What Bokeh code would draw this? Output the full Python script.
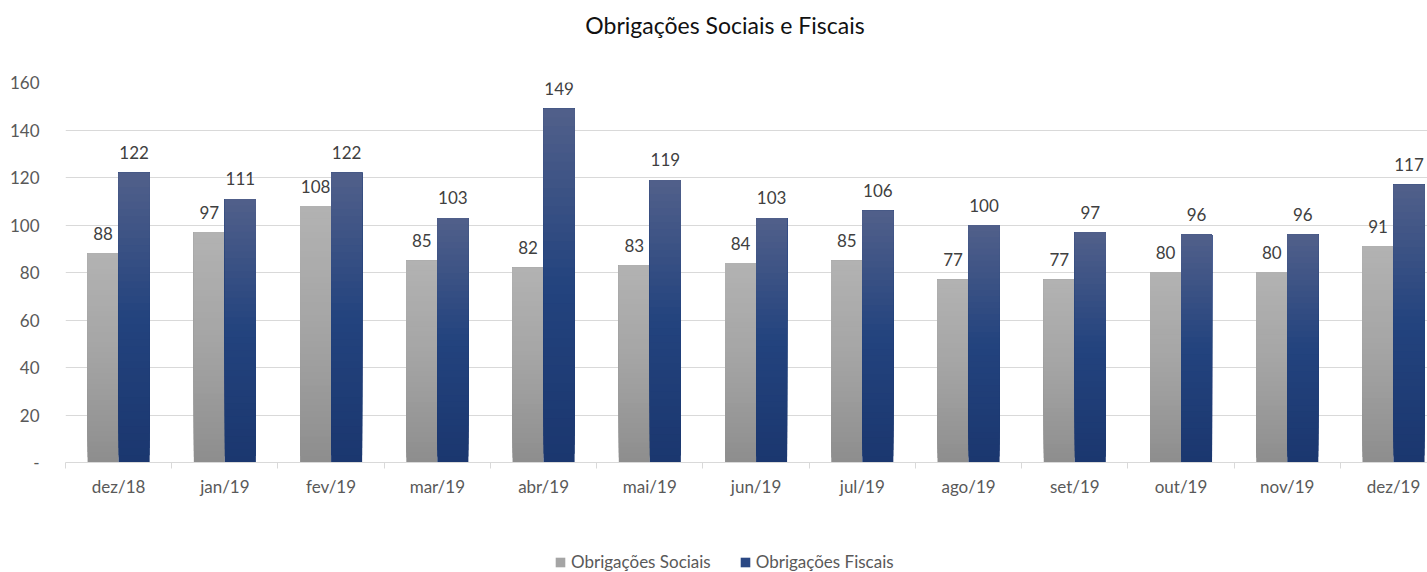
from bokeh.plotting import figure
from bokeh.layouts import column
from bokeh.models import (ColumnDataSource, Range1d, FixedTicker, LabelSet, Label,
                          Legend, LegendItem)
from bokeh.core.properties import value
from bokeh.embed import file_html
from bokeh.resources import INLINE

# ---- data ----
categories = ["dez/18", "jan/19", "fev/19", "mar/19", "abr/19", "mai/19", "jun/19",
              "jul/19", "ago/19", "set/19", "out/19", "nov/19", "dez/19"]
sociais = [88, 97, 108, 85, 82, 83, 84, 85, 77, 77, 80, 80, 91]
fiscais = [122, 111, 122, 103, 149, 119, 103, 106, 100, 97, 96, 96, 117]
y_ticks = [0, 20, 40, 60, 80, 100, 120, 140, 160]
series_names = ["Obrigações Sociais", "Obrigações Fiscais"]
title_text = "Obrigações Sociais e Fiscais"

FONT = "Lato"
BAR_W = 0.292
OFFSET = 0.146
N_SLICES = 40
W = 1427
LEFT = 65

# gradient stops (bottom -> top)
gray_stops = [(0.0, (0x8e, 0x8e, 0x8e)), (0.5, (0xa4, 0xa4, 0xa4)), (1.0, (0xb2, 0xb2, 0xb2))]
blue_stops = [(0.0, (0x1b, 0x37, 0x6f)), (0.5, (0x23, 0x43, 0x7e)), (1.0, (0x50, 0x5f, 0x8a))]


def interp(stops, t):
    for (t0, c0), (t1, c1) in zip(stops[:-1], stops[1:]):
        if t <= t1:
            f = (t - t0) / (t1 - t0) if t1 > t0 else 0
            c = [round(a + (b - a) * f) for a, b in zip(c0, c1)]
            return "#%02x%02x%02x" % tuple(c)
    return "#%02x%02x%02x" % stops[-1][1]


def strip(height):
    # frames are aligned with the main chart's frame (which starts at LEFT px)
    fig = figure(width=W, height=height, output_backend="svg", toolbar_location=None,
                 x_range=Range1d(LEFT, W), y_range=Range1d(0, height),
                 x_axis_location=None, y_axis_location=None,
                 min_border_left=LEFT, min_border_right=0, min_border_top=0,
                 min_border_bottom=0)
    fig.outline_line_color = None
    fig.xgrid.grid_line_color = None
    fig.ygrid.grid_line_color = None
    fig.background_fill_color = "white"
    fig.border_fill_color = "white"
    return fig


# ---- title strip ----
TH = 60
tf = strip(TH)
tf.add_layout(Label(x=724.5, y=TH - 24, text=title_text, text_align="center",
                    text_baseline="middle", text_font=FONT, text_font_size="23px",
                    text_font_style="normal", text_color="#111111"))

# ---- main chart ----
p = figure(width=W, height=480, output_backend="svg", toolbar_location=None,
           x_range=Range1d(0, 12.82), y_range=Range1d(0, 160),
           min_border_left=LEFT, min_border_right=0, min_border_top=22,
           min_border_bottom=78)
p.outline_line_color = None
p.background_fill_color = "white"
p.border_fill_color = "white"

for vals, off, stops in [(sociais, -OFFSET, gray_stops), (fiscais, OFFSET, blue_stops)]:
    xs, bottoms, tops, colors = [], [], [], []
    for k in range(N_SLICES):
        t = k / (N_SLICES - 1)
        for i, v in enumerate(vals):
            xs.append(i + 0.5 + off)
            bottoms.append(v * k / N_SLICES)
            tops.append(v)
            colors.append(interp(stops, t))
    src = ColumnDataSource(dict(x=xs, bottom=bottoms, top=tops, color=colors))
    p.vbar(x="x", bottom="bottom", top="top", width=BAR_W, source=src,
           fill_color="color", line_color=None)

lab_src = ColumnDataSource(dict(
    x=[i + 0.5 - OFFSET for i in range(len(categories))] + [i + 0.5 + OFFSET for i in range(len(categories))],
    y=sociais + fiscais,
    text=[str(v) for v in sociais + fiscais],
))
p.add_layout(LabelSet(x="x", y="y", text="text", source=lab_src, text_align="center",
                      text_baseline="middle", y_offset=20, text_font=value(FONT),
                      text_font_size="17px", text_color="#404040"))

p.yaxis.ticker = FixedTicker(ticks=y_ticks)
p.yaxis.major_label_overrides = {0: "-"}
p.yaxis.axis_line_color = None
p.yaxis.major_tick_line_color = None
p.yaxis.minor_tick_line_color = None
p.yaxis.major_label_standoff = 20
p.yaxis.major_label_text_font = FONT
p.yaxis.major_label_text_font_size = "17px"
p.yaxis.major_label_text_color = "#595959"

p.ygrid.ticker = FixedTicker(ticks=y_ticks)
p.ygrid.grid_line_color = "#d9d9d9"
p.ygrid.grid_line_width = 1
p.xgrid.grid_line_color = None

centers = [i + 0.5 for i in range(len(categories))]
bounds = [float(i) for i in range(len(categories) + 1)]
p.xaxis.ticker = FixedTicker(ticks=centers, minor_ticks=bounds)
p.xaxis.major_label_overrides = {c: lab for c, lab in zip(centers, categories)}
p.xaxis.axis_line_color = "#d9d9d9"
p.xaxis.major_tick_line_color = None
p.xaxis.major_tick_out = 0
p.xaxis.major_tick_in = 0
p.xaxis.minor_tick_line_color = "#d9d9d9"
p.xaxis.minor_tick_out = 6
p.xaxis.minor_tick_in = 0
p.xaxis.major_label_standoff = 7
p.xaxis.major_label_text_font = FONT
p.xaxis.major_label_text_font_size = "17px"
p.xaxis.major_label_text_color = "#595959"

# ---- legend strip ----
LH = 32
lf = strip(LH)
r1 = lf.vbar(x=[LEFT], top=[0], width=0.1, fill_color="#a5a5a5", line_color=None)
r2 = lf.vbar(x=[LEFT], top=[0], width=0.1, fill_color="#2a4884", line_color=None)
legend = Legend(items=[LegendItem(label=series_names[0], renderers=[r1]),
                       LegendItem(label=series_names[1], renderers=[r2])],
                orientation="horizontal", location=(554 - LEFT, 0),
                label_text_font=FONT, label_text_font_size="17px",
                label_text_color="#595959", glyph_width=12, glyph_height=12,
                label_standoff=5, spacing=28, border_line_color=None,
                background_fill_alpha=0, margin=0, padding=4)
lf.add_layout(legend, "center")

layout = column(tf, p, lf, spacing=0)
open("out.html", "w").write(file_html(layout, INLINE))
